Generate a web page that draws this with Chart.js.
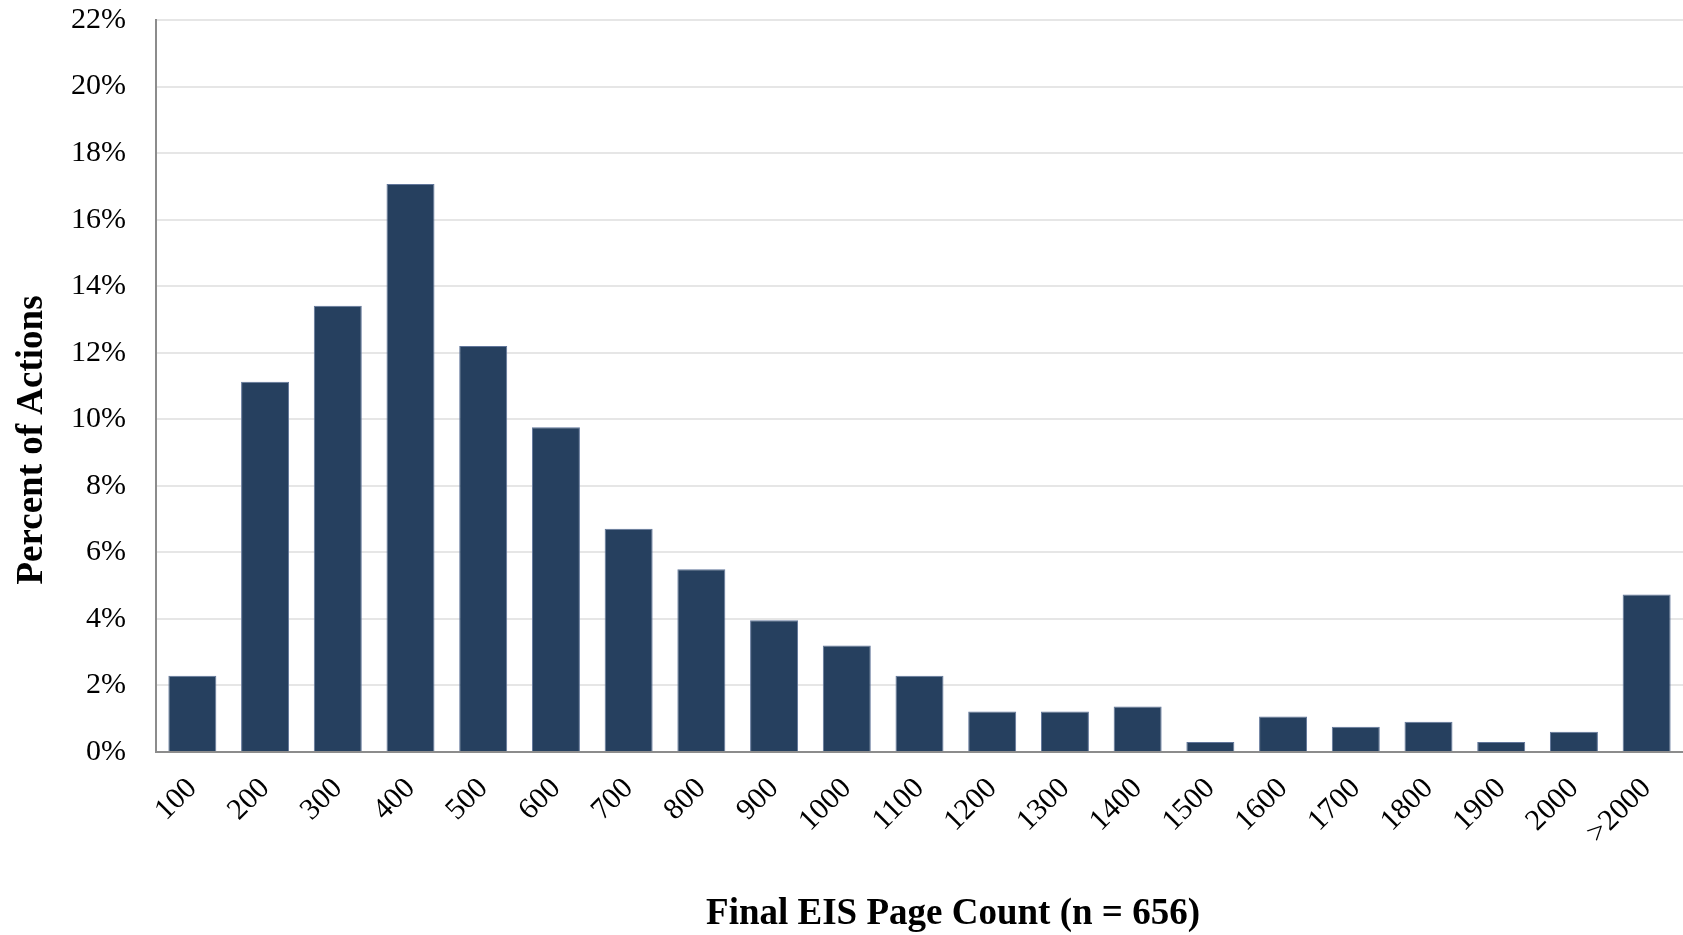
<!DOCTYPE html>
<html>
<head>
<meta charset="utf-8">
<script src="https://cdn.jsdelivr.net/npm/chart.js@4.4.1/dist/chart.umd.min.js"></script>
<style>
  html, body { margin: 0; padding: 0; background: #fff; }
  #wrap { width: 1683px; height: 935px; }
</style>
</head>
<body>
<div id="wrap"><canvas id="chart" width="1683" height="935"></canvas></div>
<script>
// page count bins and share of actions (%) per bin
const categories = ['100', '200', '300', '400', '500', '600', '700', '800', '900', '1000',
  '1100', '1200', '1300', '1400', '1500', '1600', '1700', '1800', '1900', '2000', '>2000'];
const percentOfActions = [2.29, 11.13, 13.41, 17.07, 12.20, 9.76, 6.71, 5.49, 3.96, 3.20,
  2.29, 1.22, 1.22, 1.37, 0.30, 1.07, 0.76, 0.91, 0.30, 0.61, 4.73];
const yTitle = 'Percent of Actions';
const xTitle = 'Final EIS Page Count (n = 656)';

const serif = '"Liberation Serif", "Times New Roman", serif';

// axis titles sit a bit off-centre in the original, so draw them here
const axisTitles = {
  id: 'axisTitles',
  afterDraw(chart) {
    let ctx = chart.ctx;
    ctx.save();
    ctx.fillStyle = '#000';
    ctx.font = 'bold 37px ' + serif;
    ctx.textAlign = 'center';
    ctx.textBaseline = 'alphabetic';
    ctx.fillText(xTitle, 953, 924);
    ctx.translate(42, 440);
    ctx.rotate(-Math.PI / 2);
    ctx.fillText(yTitle, 0, 0);
    ctx.restore();
  },
};

new Chart(document.getElementById('chart'), {
  type: 'bar',
  data: {
    labels: categories,
    datasets: [{
      data: percentOfActions,
      backgroundColor: '#26405f',
      borderColor: '#61769a',
      borderWidth: 1,
      categoryPercentage: 0.66,
      barPercentage: 1,
    }],
  },
  options: {
    responsive: false,
    animation: false,
    devicePixelRatio: 1,
    layout: {padding: {top: 20, right: 0, bottom: 0, left: 0}},
    plugins: {legend: {display: false}, tooltip: {enabled: false}},
    scales: {
      x: {
        grid: {display: false, drawTicks: false},
        border: {display: true, color: '#8c8c8c', width: 2},
        ticks: {
          color: '#000',
          font: {family: serif, size: 30},
          minRotation: 45,
          maxRotation: 45,
          autoSkip: false,
          padding: 19,
        },
        afterFit: (scale)=> {
          scale.height = 183;
          scale.paddingRight = 0;
        },
      },
      y: {
        min: 0,
        max: 22,
        grid: {color: '#e6e6e6', lineWidth: 2, drawTicks: false},
        border: {display: true, color: '#8c8c8c', width: 2},
        ticks: {
          stepSize: 2,
          color: '#000',
          font: {family: serif, size: 30},
          padding: 30,
          callback: (v)=> v + '%',
        },
        afterFit: (scale)=> {
          scale.width = 156;
          scale.paddingTop = 0;
          scale.paddingBottom = 0;
        },
      },
    },
  },
  plugins: [axisTitles],
});
</script>
</body>
</html>
